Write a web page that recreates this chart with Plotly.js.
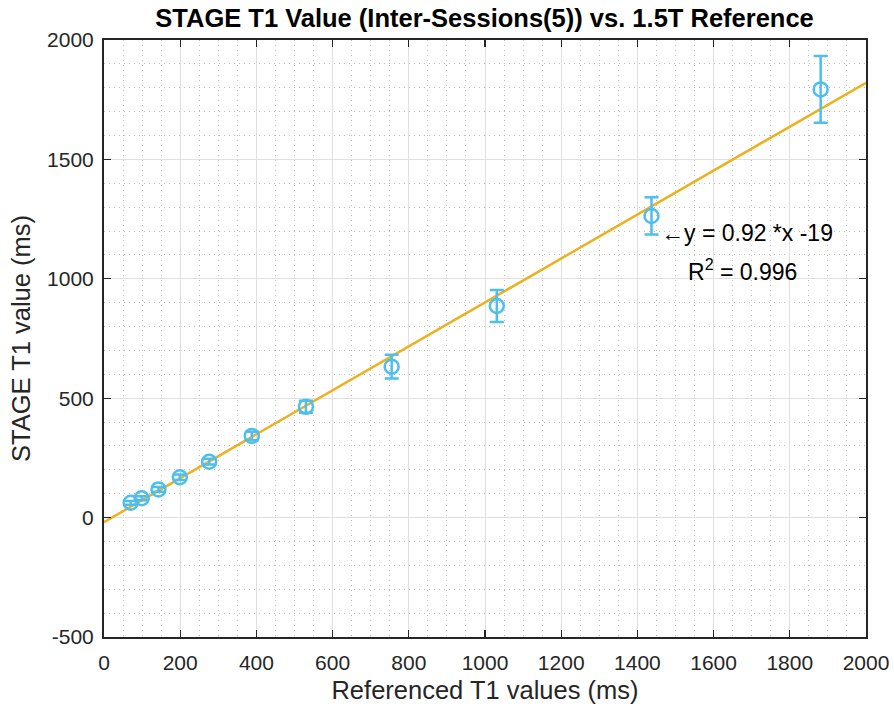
<!DOCTYPE html>
<html><head><meta charset="utf-8">
<script src="https://cdn.plot.ly/plotly-3.0.1.min.js"></script>
<style>body{margin:0;background:#fff}#plot{width:894px;height:713px}</style>
</head><body><div id="plot"></div>
<script>
const refT1 = [70, 99, 143, 199, 276, 388, 530, 755, 1031, 1437, 1881];
const stageT1 = [62, 81, 118, 169, 234, 342, 464, 632, 886, 1263, 1793];
const stageSD = [8, 8, 10, 12, 12, 18, 25, 50, 67, 78, 140];
const fitSlope = 0.92, fitIntercept = -19;
const fitX = [0, 2000];
const fitY = fitX.map(v => fitSlope * v + fitIntercept);
const xTickVals = [0, 200, 400, 600, 800, 1000, 1200, 1400, 1600, 1800, 2000];
const xTickText = ['0', '200', '400', '600', '800', '1000', '1200', '1400', '1600', '1800', '2000'];
const yTickVals = [-500, 0, 500, 1000, 1500, 2000];
const yTickText = ['-500', '0', '500', '1000', '1500', '2000'];

const font = 'Liberation Sans, Arial, sans-serif';
const traces = [
  {x: fitX, y: fitY, mode: 'lines', line: {color: '#EDB120', width: 2.5}, hoverinfo: 'skip'},
  {x: refT1, y: stageT1, mode: 'markers', type: 'scatter',
   marker: {symbol: 'circle-open', size: 14, color: '#4DBEEE', line: {width: 2.5, color: '#4DBEEE'}},
   error_y: {type: 'data', array: stageSD, visible: true, color: '#4DBEEE', thickness: 2.5, width: 7}}
];
const axisCommon = {
  showline: true, mirror: 'ticks', linecolor: '#262626', linewidth: 2,
  ticks: 'inside', ticklen: 7, tickwidth: 1.3, tickcolor: '#262626',
  showgrid: true, gridcolor: '#e0e0e0', gridwidth: 1, zeroline: false,
  tickfont: {family: font, size: 21, color: '#262626'}
};
const minorCommon = {showgrid: true, gridcolor: '#bdbdbd', griddash: '1px,4px', gridwidth: 1, ticks: ''};
const layout = {
  width: 894, height: 713,
  margin: {l: 104, r: 28, t: 40, b: 76},
  paper_bgcolor: '#fff', plot_bgcolor: '#fff',
  showlegend: false,
  title: {text: '<b>STAGE T1 Value (Inter-Sessions(5)) vs. 1.5T Reference</b>', x: 0.542, xanchor: 'center', y: 0.975, yanchor: 'middle',
          font: {family: font, size: 25.5, color: '#000'}},
  xaxis: Object.assign({}, axisCommon, {
    range: [0, 2000], tickmode: 'array', tickvals: xTickVals, ticktext: xTickText,
    ticklabelstandoff: 6,
    minor: Object.assign({dtick: 50, tick0: 0}, minorCommon),
    title: {text: 'Referenced T1 values (ms)', font: {family: font, size: 25.5, color: '#262626'}, standoff: 8}
  }),
  yaxis: Object.assign({}, axisCommon, {
    range: [-500, 2000], tickmode: 'array', tickvals: yTickVals, ticktext: yTickText,
    ticklabelstandoff: 4,
    minor: Object.assign({dtick: 100, tick0: 0}, minorCommon),
    title: {text: 'STAGE T1 value (ms)', font: {family: font, size: 25.5, color: '#262626'}, standoff: 9}
  }),
  annotations: [
    {x: 1457, y: 1192, xref: 'x', yref: 'y', xanchor: 'left', yanchor: 'middle', showarrow: false,
     text: '←y = 0.92 *x -19', font: {family: font, size: 23, color: '#000'}},
    {x: 1528, y: 1037, xref: 'x', yref: 'y', xanchor: 'left', yanchor: 'middle', showarrow: false,
     text: 'R<sup>2</sup> = 0.996', font: {family: font, size: 23, color: '#000'}}
  ]
};
Plotly.newPlot('plot', traces, layout, {displayModeBar: false, staticPlot: true});
</script></body></html>
